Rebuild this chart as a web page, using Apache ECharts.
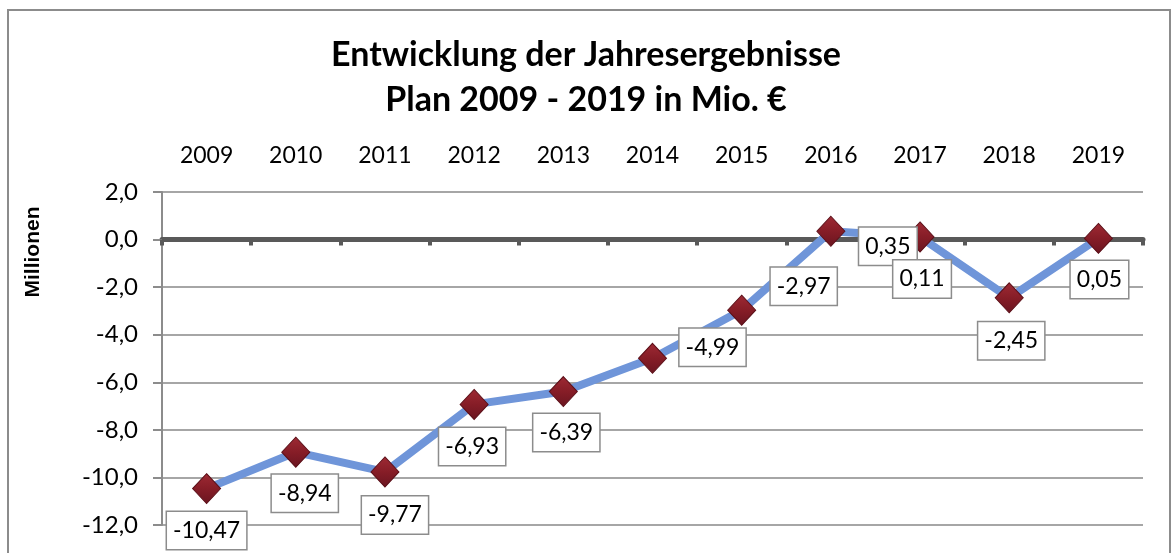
<!DOCTYPE html>
<html>
<head>
<meta charset="utf-8">
<script src="https://cdn.jsdelivr.net/npm/echarts@6/dist/echarts.min.js"></script>
<style>
  html, body { margin: 0; padding: 0; background: #fff; }
  #chart { width: 1172px; height: 553px; }
</style>
</head>
<body>
<div id="chart"></div>
<script>
  // Daten
  var years = ['2009', '2010', '2011', '2012', '2013', '2014', '2015', '2016', '2017', '2018', '2019'];
  var results = [-10.47, -8.94, -9.77, -6.93, -6.39, -4.99, -2.97, 0.35, 0.11, -2.45, 0.05];
  var yMin = -12, yMax = 2, yStep = 2;

  // Lage der Beschriftungen (Versatz zum Punkt)
  var labelOffsets = [[0, 42], [9, 41], [10, 43], [-2, 42], [3, 41], [60, -11], [62, -24], [57, 15], [2, 42], [2, 43], [1, 41]];

  var fontMain = 'Lato, "Open Sans", sans-serif';

  var chart = echarts.init(document.getElementById('chart'));
  chart.setOption({
    animation: false,
    title: {
      text: 'Entwicklung der Jahresergebnisse\nPlan 2009 - 2019 in Mio. €',
      left: 'center',
      top: 28,
      textStyle: { fontFamily: fontMain, fontWeight: 'bold', fontSize: 34, lineHeight: 45, color: '#000' }
    },
    graphic: [
      {
        type: 'rect',
        shape: { x: 8, y: 10, width: 1162, height: 560 },
        style: { fill: 'none', stroke: '#8c8c8c', lineWidth: 2 },
        silent: true
      },
      {
        type: 'text',
        x: 33, y: 252,
        rotation: Math.PI / 2,
        style: {
          text: 'Millionen',
          font: 'bold 21px "Liberation Sans", Arial, sans-serif',
          fill: '#000',
          align: 'center',
          verticalAlign: 'middle'
        }
      }
    ],
    grid: { left: 162, right: 29, top: 192, bottom: 28 },
    xAxis: [
      {
        type: 'category',
        data: years,
        position: 'bottom',
        axisLine: { onZero: true, lineStyle: { color: '#595959', width: 5 } },
        axisTick: { show: true, length: 6, lineStyle: { color: '#595959', width: 4 } },
        axisLabel: { show: false },
        splitLine: { show: false }
      },
      {
        type: 'category',
        data: years,
        position: 'top',
        offset: 17,
        axisLine: { show: false },
        axisTick: { show: false },
        axisLabel: { fontFamily: fontMain, fontSize: 23, color: '#000' }
      }
    ],
    yAxis: {
      type: 'value',
      min: yMin,
      max: yMax,
      interval: yStep,
      axisLine: { show: true, onZero: false, lineStyle: { color: '#8c8c8c', width: 2 } },
      axisTick: { show: true, length: 9, lineStyle: { color: '#8c8c8c', width: 2 } },
      axisLabel: {
        fontFamily: fontMain, fontSize: 24, color: '#000', margin: 24,
        formatter: function (v) { return v.toFixed(1).replace('.', ','); }
      },
      splitLine: { lineStyle: { color: '#a6a6a6', width: 2 } }
    },
    series: [{
      type: 'line',
      xAxisIndex: 0,
      data: results.map(function (v, i) {
        return {
          value: v,
          label: { offset: labelOffsets[i] }
        };
      }),
      lineStyle: { color: '#6f95d9', width: 8 },
      symbol: 'diamond',
      symbolSize: [28, 30],
      itemStyle: {
        color: new echarts.graphic.LinearGradient(0, 0, 0, 1, [
          { offset: 0, color: '#9e2a34' },
          { offset: 0.5, color: '#861d27' },
          { offset: 1, color: '#6a1520' }
        ]),
        borderColor: '#5c1019',
        borderWidth: 1
      },
      label: {
        show: true,
        position: 'inside',
        fontFamily: fontMain,
        fontSize: 23,
        color: '#000',
        backgroundColor: '#fff',
        borderColor: '#8c8c8c',
        borderWidth: 1.5,
        padding: [8, 6, 6, 6],
        formatter: function (p) { return p.value.toFixed(2).replace('.', ','); }
      },
      z: 5
    }]
  });
</script>
</body>
</html>
